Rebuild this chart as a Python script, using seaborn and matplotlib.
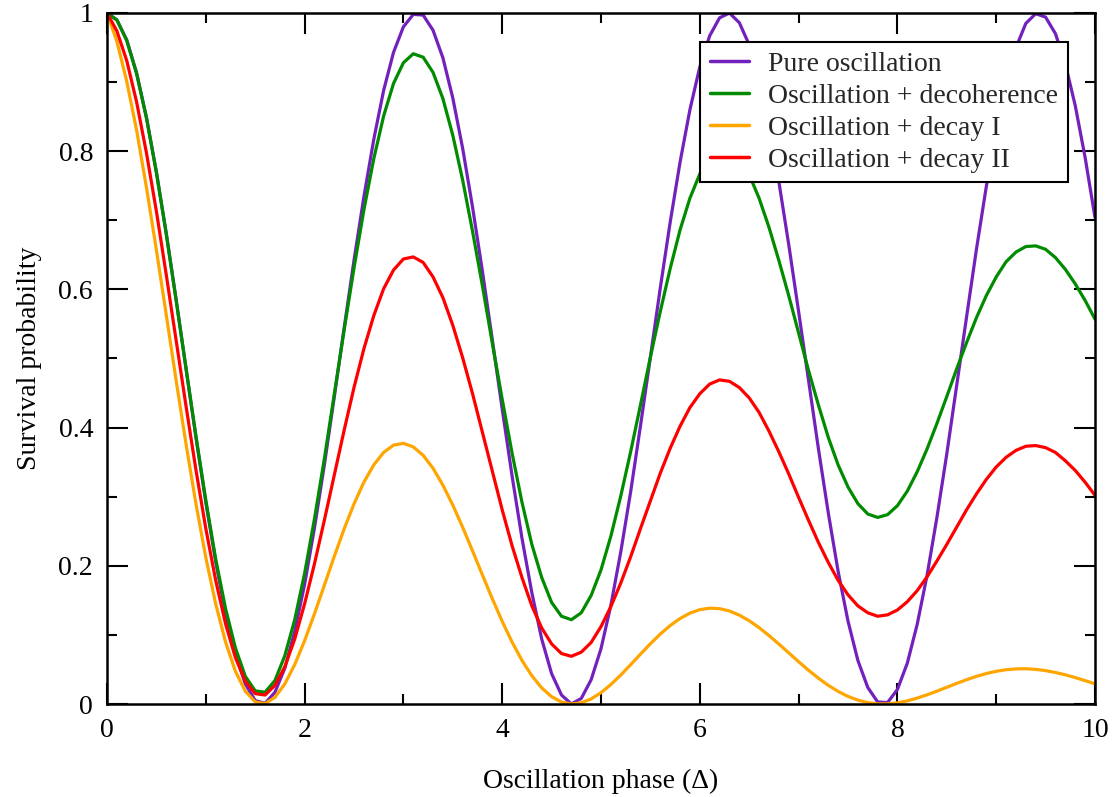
import numpy as np
import pandas as pd
import matplotlib
matplotlib.use("Agg")
import matplotlib.pyplot as plt
import seaborn as sns
from matplotlib.ticker import MultipleLocator

# Oscillation phase samples (step 0.1 from 0 to 10)
phase = [round(0.1 * i, 1) for i in range(101)]

pure_oscillation = [
    1.000, 0.990, 0.961, 0.913, 0.848, 0.770, 0.681, 0.585, 0.485, 0.386,
    0.292, 0.206, 0.131, 0.072, 0.029, 0.005, 0.001, 0.017, 0.052, 0.105,
    0.173, 0.255, 0.346, 0.444, 0.544, 0.642, 0.734, 0.817, 0.888, 0.943,
    0.980, 0.998, 0.997, 0.975, 0.935, 0.877, 0.804, 0.719, 0.626, 0.527,
    0.427, 0.330, 0.240, 0.161, 0.094, 0.044, 0.013, 0.000, 0.008, 0.035,
    0.080, 0.143, 0.220, 0.307, 0.403, 0.502, 0.602, 0.697, 0.784, 0.860,
    0.922, 0.967, 0.993, 1.000, 0.986, 0.954, 0.903, 0.836, 0.756, 0.665,
    0.568, 0.469, 0.370, 0.277, 0.192, 0.120, 0.063, 0.024, 0.003, 0.002,
    0.021, 0.059, 0.115, 0.186, 0.270, 0.362, 0.461, 0.560, 0.658, 0.749,
    0.830, 0.898, 0.950, 0.985, 0.999, 0.994, 0.970, 0.926, 0.866, 0.791,
    0.704,
]

decoherence = [
    1.000, 0.990, 0.960, 0.912, 0.848, 0.769, 0.680, 0.584, 0.486, 0.388,
    0.295, 0.210, 0.138, 0.081, 0.040, 0.019, 0.017, 0.034, 0.070, 0.122,
    0.189, 0.268, 0.355, 0.448, 0.541, 0.631, 0.715, 0.789, 0.851, 0.898,
    0.928, 0.941, 0.936, 0.914, 0.876, 0.823, 0.758, 0.684, 0.605, 0.522,
    0.441, 0.363, 0.292, 0.231, 0.183, 0.147, 0.127, 0.122, 0.132, 0.157,
    0.194, 0.243, 0.301, 0.365, 0.433, 0.502, 0.568, 0.630, 0.686, 0.732,
    0.767, 0.791, 0.803, 0.802, 0.790, 0.766, 0.732, 0.690, 0.642, 0.591,
    0.537, 0.483, 0.433, 0.386, 0.346, 0.314, 0.290, 0.275, 0.270, 0.274,
    0.287, 0.308, 0.336, 0.369, 0.406, 0.445, 0.485, 0.523, 0.559, 0.591,
    0.618, 0.640, 0.654, 0.662, 0.663, 0.658, 0.646, 0.629, 0.608, 0.584,
    0.557,
]

decay_one = [
    1.000, 0.959, 0.901, 0.830, 0.747, 0.657, 0.563, 0.468, 0.376, 0.290,
    0.212, 0.145, 0.0896, 0.0473, 0.0185, 0.0031, 0.0005, 0.0097, 0.0291, 0.0571,
    0.0916, 0.1306, 0.1719, 0.2135, 0.2533, 0.2896, 0.3210, 0.3460, 0.3641, 0.3746,
    0.3772, 0.3721, 0.3599, 0.3411, 0.3167, 0.2878, 0.2557, 0.2215, 0.1866, 0.1523,
    0.1196, 0.0896, 0.0631, 0.0409, 0.0233, 0.0106, 0.0029, 0.0000, 0.0017, 0.0073,
    0.0164, 0.0282, 0.0419, 0.0569, 0.0722, 0.0872, 0.1012, 0.1135, 0.1237, 0.1315,
    0.1365, 0.1387, 0.1380, 0.1346, 0.1286, 0.1205, 0.1105, 0.0991, 0.0868, 0.0740,
    0.0612, 0.0489, 0.0374, 0.0271, 0.0182, 0.0110, 0.0056, 0.0020, 0.0002, 0.0002,
    0.0017, 0.0045, 0.0085, 0.0133, 0.0186, 0.0242, 0.0298, 0.0351, 0.0400, 0.0441,
    0.0473, 0.0496, 0.0508, 0.0510, 0.0501, 0.0483, 0.0456, 0.0422, 0.0382, 0.0338,
    0.0292,
]

decay_two = [
    1.000, 0.974, 0.931, 0.871, 0.797, 0.713, 0.621, 0.526, 0.431, 0.339,
    0.254, 0.179, 0.116, 0.067, 0.033, 0.015, 0.013, 0.027, 0.054, 0.094,
    0.145, 0.203, 0.266, 0.331, 0.396, 0.458, 0.514, 0.562, 0.601, 0.628,
    0.644, 0.647, 0.639, 0.618, 0.588, 0.548, 0.501, 0.449, 0.393, 0.337,
    0.281, 0.229, 0.183, 0.142, 0.110, 0.087, 0.073, 0.069, 0.075, 0.089,
    0.112, 0.141, 0.175, 0.213, 0.254, 0.294, 0.334, 0.370, 0.402, 0.429,
    0.449, 0.463, 0.469, 0.467, 0.458, 0.443, 0.422, 0.395, 0.365, 0.333,
    0.299, 0.266, 0.234, 0.205, 0.179, 0.158, 0.142, 0.132, 0.127, 0.129,
    0.136, 0.148, 0.164, 0.184, 0.207, 0.231, 0.256, 0.281, 0.304, 0.325,
    0.343, 0.357, 0.367, 0.373, 0.374, 0.371, 0.364, 0.352, 0.338, 0.321,
    0.302,
]

series_names = [
    "Pure oscillation",
    "Oscillation + decoherence",
    "Oscillation + decay I",
    "Oscillation + decay II",
]
series_colors = ["#7221BC", "#008B00", "#FFA500", "#FF0000"]

x_ticks = [0, 2, 4, 6, 8, 10]
x_tick_labels = ["0", "2", "4", "6", "8", "10"]
y_ticks = [0, 0.2, 0.4, 0.6, 0.8, 1.0]
y_tick_labels = ["0", "0.2", "0.4", "0.6", "0.8", "1"]

frames = []
for name, vals in zip(series_names,
                      [pure_oscillation, decoherence, decay_one, decay_two]):
    frames.append(pd.DataFrame({"phase": phase, "prob": vals, "series": name}))
df = pd.concat(frames, ignore_index=True)

sns.set_theme(style="ticks")
plt.rcParams["font.family"] = ["Liberation Serif", "DejaVu Serif"]

fig = plt.figure(figsize=(11.14, 7.97), dpi=100)
ax = fig.add_axes([107 / 1114, 1 - 704 / 797, 988 / 1114, 691 / 797])

sns.lineplot(
    data=df, x="phase", y="prob", hue="series", hue_order=series_names,
    palette=dict(zip(series_names, series_colors)), linewidth=2.3,
    estimator=None, sort=False, ax=ax,
)

ax.set_xlim(0, 10)
ax.set_ylim(0, 1)
ax.set_xticks(x_ticks)
ax.set_xticklabels(x_tick_labels)
ax.set_yticks(y_ticks)
ax.set_yticklabels(y_tick_labels)
ax.xaxis.set_minor_locator(MultipleLocator(1))
ax.yaxis.set_minor_locator(MultipleLocator(0.1))
ax.tick_params(which="both", direction="in", top=True, right=True,
               color="black", width=1.5, labelsize=20, labelcolor="black")
ax.tick_params(which="major", length=15, pad=10)
ax.tick_params(which="minor", length=7.5)
for sp in ax.spines.values():
    sp.set_visible(True)
    sp.set_color("black")
    sp.set_linewidth(1.8)

ax.set_xlabel("Oscillation phase (Δ)", fontsize=20, labelpad=19, color="black")
ax.set_ylabel("Survival probability", fontsize=20, labelpad=12, color="black")

leg = ax.legend(
    loc="upper right", bbox_to_anchor=((1068 - 107) / 988, (704 - 42) / 691),
    borderaxespad=0, fontsize=20, frameon=True, fancybox=False,
    framealpha=1, edgecolor="black", handlelength=1.4, handletextpad=0.7,
    labelspacing=0.23, borderpad=0.35, title=None,
)
leg.get_frame().set_linewidth(1.5)
for line in leg.get_lines():
    line.set_linewidth(2.5)

fig.savefig("out.png", dpi=100)
